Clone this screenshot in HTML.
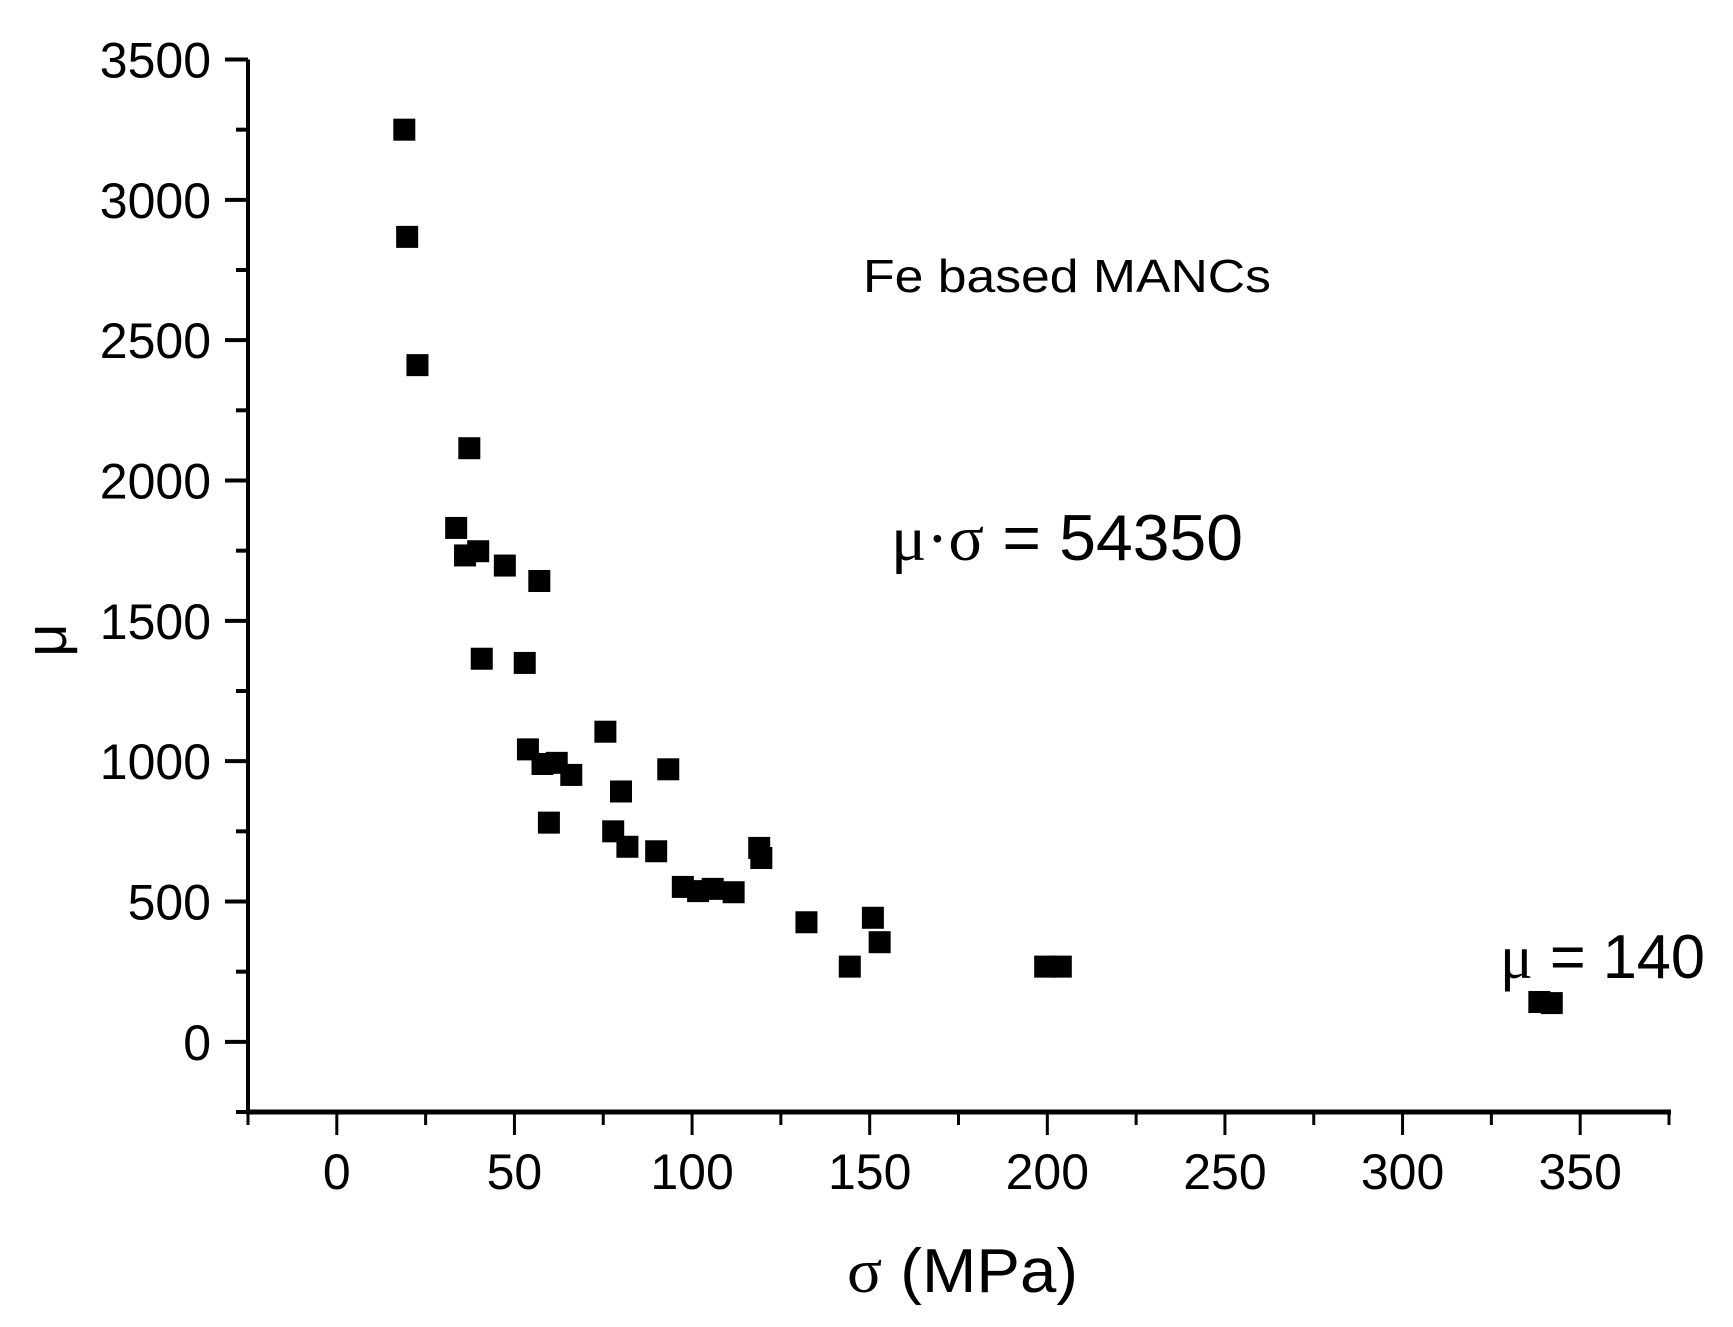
<!DOCTYPE html>
<html><head><meta charset="utf-8"><style>
html,body{margin:0;padding:0;background:#fff;}
svg{display:block;}
text{font-family:"Liberation Sans",sans-serif;fill:#000;}
</style></head><body>
<svg id="chart" width="1733" height="1327" viewBox="0 0 1733 1327" xmlns="http://www.w3.org/2000/svg">
<g id="axes"></g>
<g id="points"></g>
<text x="863" y="292" font-size="46" textLength="408" lengthAdjust="spacingAndGlyphs">Fe based MANCs</text>
<text x="891" y="560" font-size="65" textLength="352" lengthAdjust="spacingAndGlyphs"><tspan font-family="Liberation Serif, serif">μ·σ</tspan> = 54350</text>
<text x="1500" y="978" font-size="62" textLength="205" lengthAdjust="spacingAndGlyphs"><tspan font-family="Liberation Serif, serif">μ</tspan> = 140</text>
<text x="847" y="1292" font-size="62" textLength="231" lengthAdjust="spacingAndGlyphs"><tspan font-family="Liberation Serif, serif">σ</tspan> (MPa)</text>
<text transform="translate(66,640) rotate(-90)" text-anchor="middle" font-size="58" font-family="Liberation Serif, serif">μ</text>
</svg>
<script>
const sigma = [19,19.8,22.7,37.3,33.6,36.1,39.8,47.3,57,40.8,52.9,53.8,57.9,61.9,66,59.7,75.6,80,93.3,77.8,81.8,89.9,97.4,101.7,105.8,111.7,118.9,119.5,132.2,150.9,152.8,144.4,199.4,203.8,338.5,342];
const mu = [3250,2868,2411,2115,1831,1733,1748,1697,1642,1365,1350,1042,990,994,951,781,1105,892,971,750,695,679,552,537,545,533,691,655,426,442,355,268,268,268,142,138];
const xTicks = [0,50,100,150,200,250,300,350];
const yTicks = [0,500,1000,1500,2000,2500,3000,3500];
const xMin=-25, xMax=375, yMin=-250, yMax=3500;
const NS='http://www.w3.org/2000/svg';
const X0=248, X1=1669, Y0=1112, Y1=59.5;
function sx(v){return X0+(v-xMin)/(xMax-xMin)*(X1-X0);}
function sy(v){return Y0-(v-yMin)/(yMax-yMin)*(Y0-Y1);}
const axes=document.getElementById('axes');
function mk(tag,attrs,parent){const e=document.createElementNS(NS,tag);for(const k in attrs)e.setAttribute(k,attrs[k]);parent.appendChild(e);return e;}
let l=mk('line',{x1:X0,y1:Y1,x2:X0,y2:Y0+2,stroke:'#000','stroke-width':4},axes);


l=mk('line',{x1:X0-2,y1:Y0,x2:X1+2,y2:Y0,stroke:'#000','stroke-width':5},axes);


for(let v=yMin; v<=yMax; v+=250){
  const major=yTicks.includes(v);
  const t=mk('line',{x1:X0-(major?23:12),y1:sy(v),x2:X0,y2:sy(v),stroke:'#000','stroke-width':4},axes);
  
  
}
yTicks.forEach(v=>{
  const t=mk('text',{x:211,y:sy(v)+18,'text-anchor':'end','font-size':50},axes);
  t.textContent=v;
  
  
});
for(let v=xMin; v<=xMax; v+=25){
  const major=xTicks.includes(v);
  const t=mk('line',{x1:sx(v),y1:Y0,x2:sx(v),y2:Y0+(major?23:13),stroke:'#000','stroke-width':3},axes);
  
  
}
xTicks.forEach(v=>{
  const t=mk('text',{x:sx(v),y:1189,'text-anchor':'middle','font-size':50},axes);
  t.textContent=v;
  
  
});
const pts=document.getElementById('points');
const S=22;
sigma.forEach((s,i)=>{
  const r=mk('rect',{x:sx(s)-S/2,y:sy(mu[i])-S/2,width:S,height:S,fill:'#000'},pts);
  
  
});
</script>
</body></html>
